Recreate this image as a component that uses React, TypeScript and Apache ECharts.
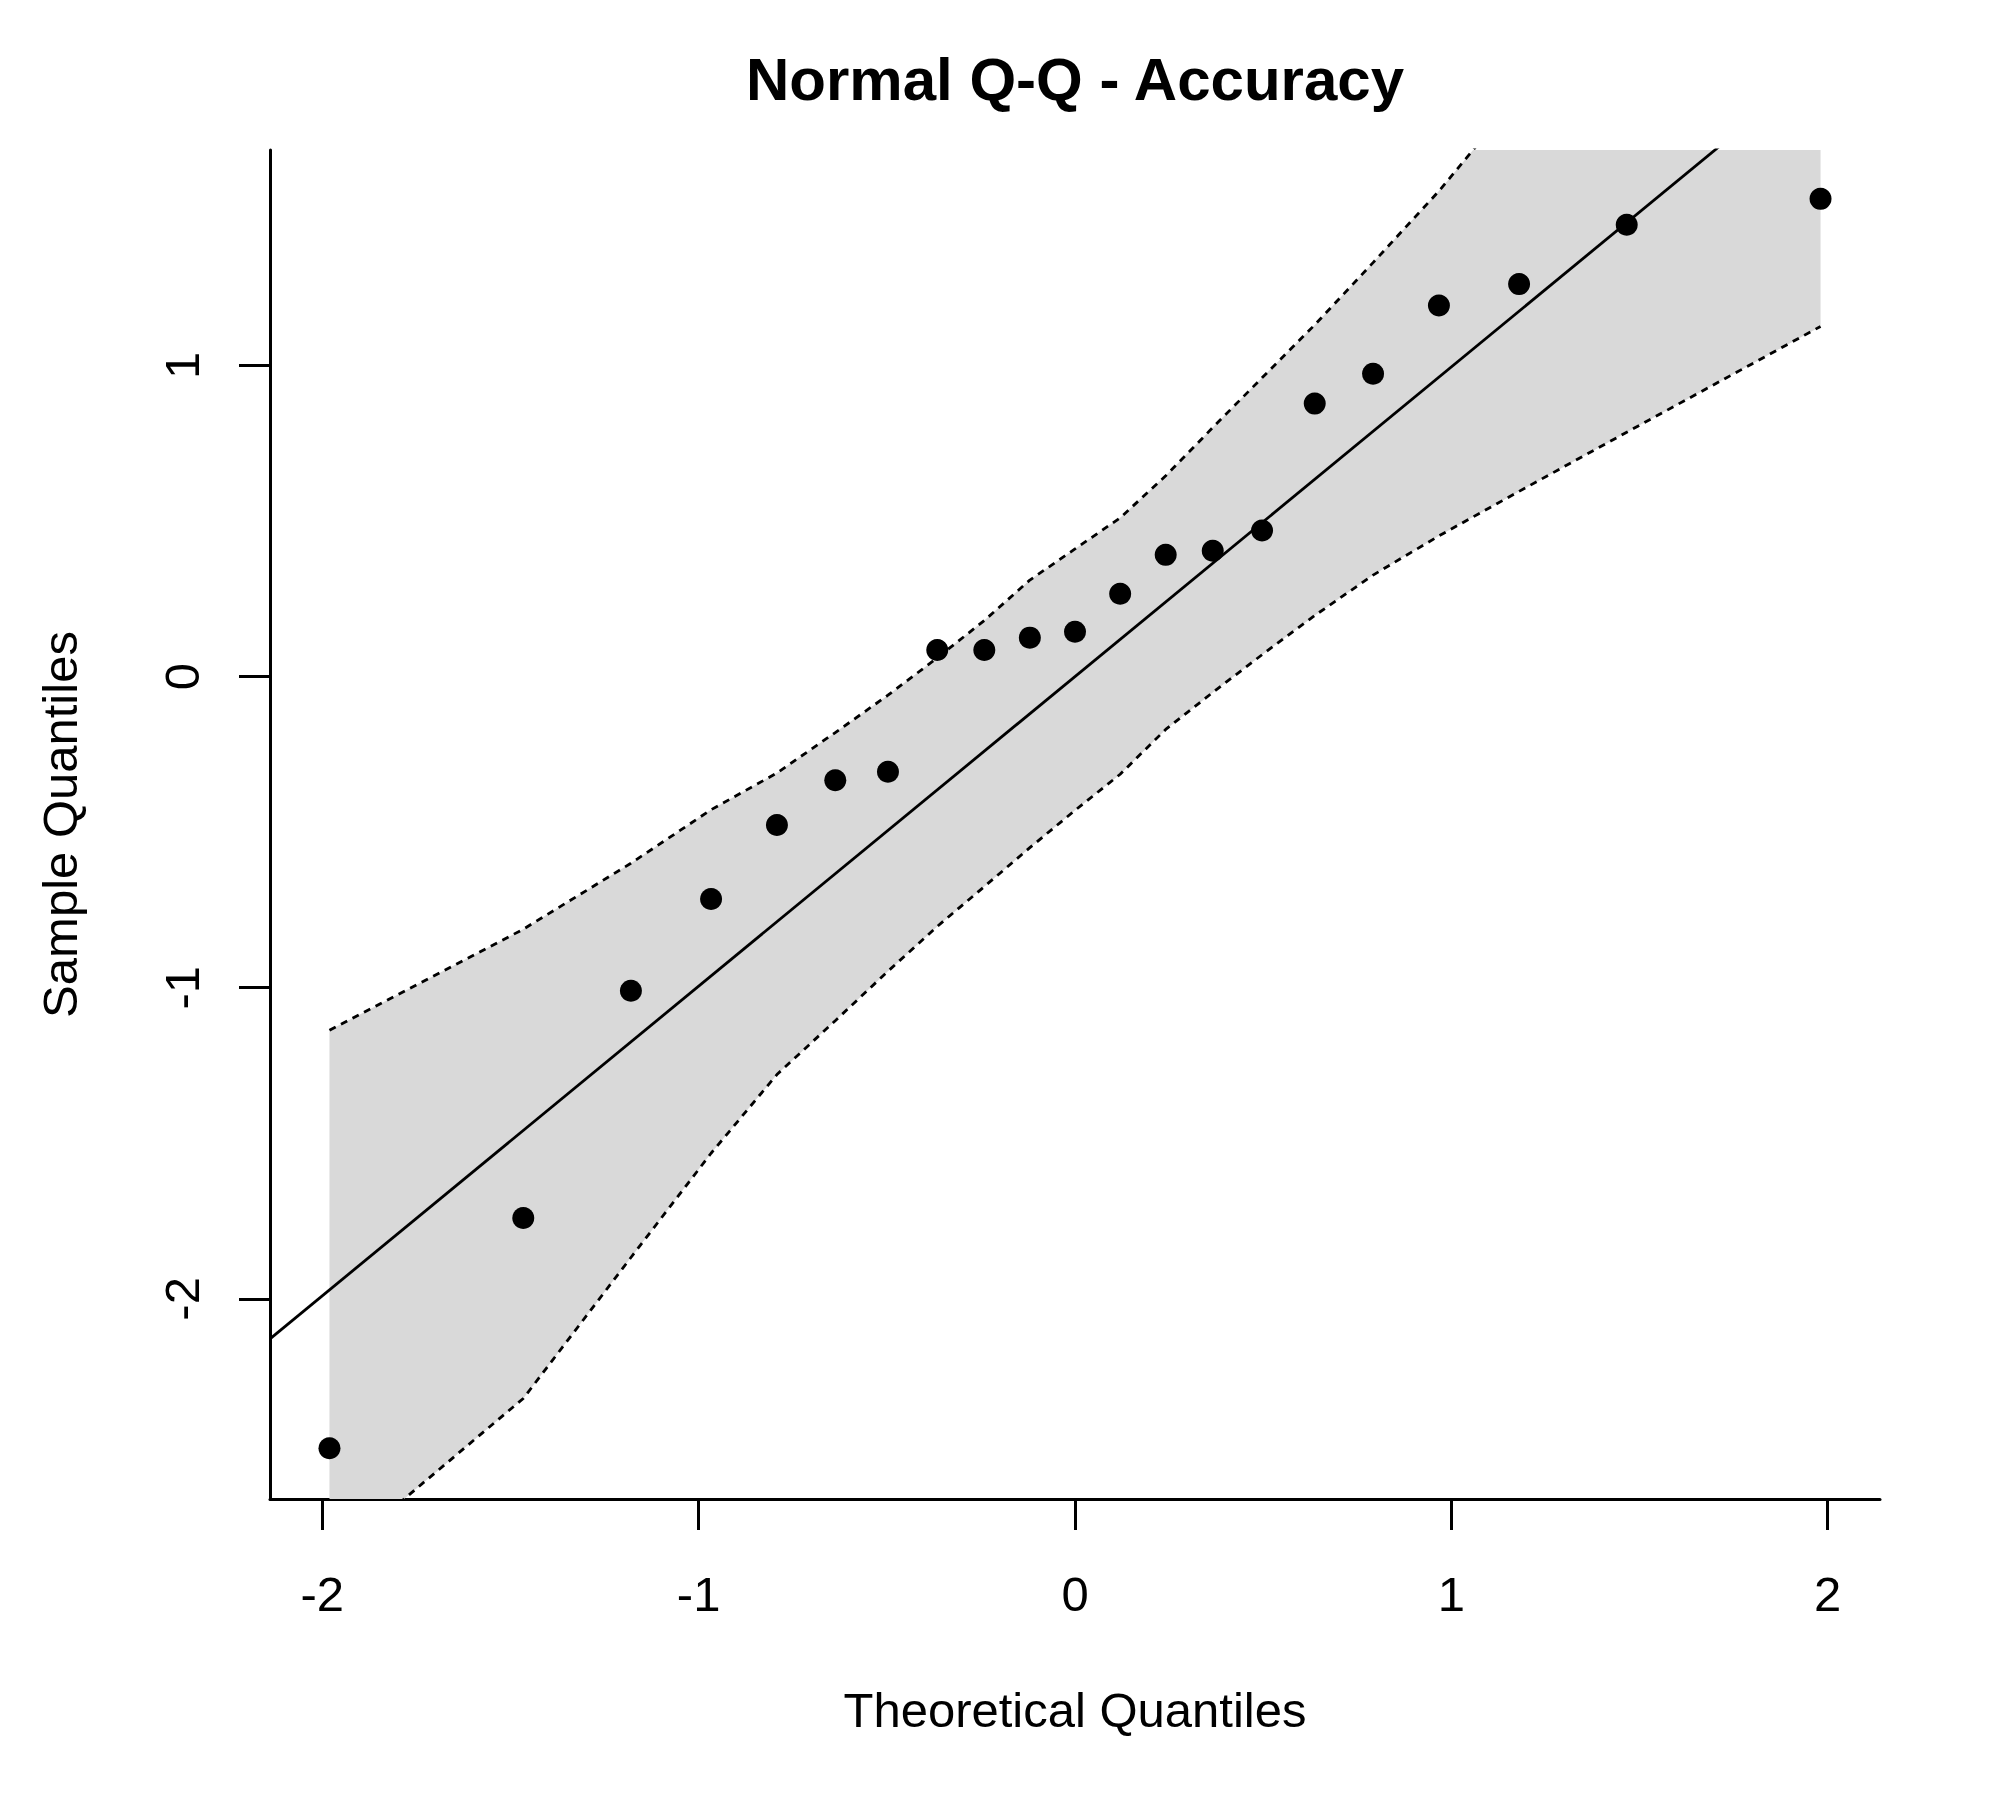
import { useEffect, useRef } from 'react'
import * as echarts from 'echarts'

// theoretical normal quantiles (x) and the sorted sample (y)
const theoretical = [
  -1.981, -1.466, -1.18, -0.967, -0.792, -0.637, -0.497, -0.366, -0.241, -0.12, 0,
  0.12, 0.241, 0.366, 0.497, 0.637, 0.792, 0.967, 1.18, 1.466, 1.981,
]
const sample = [
  -2.48, -1.74, -1.01, -0.715, -0.477, -0.333, -0.306, 0.085, 0.085, 0.125, 0.144,
  0.266, 0.391, 0.404, 0.469, 0.877, 0.973, 1.192, 1.261, 1.452, 1.535,
]
// pointwise confidence envelope read at each theoretical quantile
const bandUpper = [
  -1.137, -0.812, -0.6, -0.428, -0.31, -0.18, -0.06, 0.06, 0.18, 0.31, 0.41,
  0.51, 0.645, 0.8, 0.96, 1.13, 1.33, 1.56, 1.87, 2.26, 2.92,
]
const bandLower = [
  -2.845, -2.32, -1.867, -1.532, -1.279, -1.106, -0.947, -0.803, -0.675, -0.55, -0.43,
  -0.314, -0.17, -0.051, 0.07, 0.196, 0.326, 0.452, 0.595, 0.785, 1.125,
]
const xTicks = [-2, -1, 0, 1, 2]
const yTicks = [-2, -1, 0, 1]
const xRange = [-2.139, 2.139]
const yRange = [-2.643, 1.692]
const lineIntercept = 0
const lineSlope = 0.995

const FONT = '"Liberation Sans", Arial, sans-serif'

export default function App() {
  const ref = useRef<HTMLDivElement | null>(null)

  useEffect(() => {
    document.body.style.margin = '0'
    if (!ref.current) return
    const chart = echarts.init(ref.current, undefined, { renderer: 'svg' })

    const dashed = { color: '#000', width: 2.8, type: [7, 6] as number[] }

    chart.setOption({
      animation: false,
      backgroundColor: '#fff',
      grid: { left: 270, right: 120, top: 150, bottom: 301 },
      xAxis: {
        type: 'value',
        min: xRange[0],
        max: xRange[1],
        name: 'Theoretical Quantiles',
        nameLocation: 'middle',
        nameGap: 186,
        nameTextStyle: { fontFamily: FONT, fontSize: 49, color: '#000' },
        axisLine: { show: true, onZero: false, lineStyle: { color: '#000', width: 3 } },
        axisTick: { show: true, customValues: xTicks, length: 31, lineStyle: { color: '#000', width: 3 } },
        axisLabel: {
          customValues: xTicks,
          margin: 70,
          fontFamily: FONT,
          fontSize: 49,
          color: '#000',
          formatter: (v: number) => String(v),
        },
        splitLine: { show: false },
      },
      yAxis: {
        type: 'value',
        min: yRange[0],
        max: yRange[1],
        name: 'Sample Quantiles',
        nameLocation: 'middle',
        nameGap: 186,
        nameRotate: 90,
        nameTextStyle: { fontFamily: FONT, fontSize: 49, color: '#000' },
        axisLine: { show: true, onZero: false, lineStyle: { color: '#000', width: 3 } },
        axisTick: { show: true, customValues: yTicks, length: 31, lineStyle: { color: '#000', width: 3 } },
        axisLabel: {
          customValues: yTicks,
          rotate: 90,
          margin: 64,
          fontFamily: FONT,
          fontSize: 49,
          color: '#000',
          formatter: (v: number) => String(v),
        },
        splitLine: { show: false },
      },
      graphic: [
        {
          type: 'text',
          x: 1075,
          y: 79,
          style: {
            text: 'Normal Q-Q - Accuracy',
            fontFamily: FONT,
            fontSize: 60,
            fontWeight: 'bold',
            fill: '#000',
            textAlign: 'center',
            textVerticalAlign: 'middle',
          },
        },
      ],
      series: [
        {
          type: 'custom',
          clip: true,
          z: 1,
          data: theoretical.map((x, i) => [x, bandUpper[i], bandLower[i]]),
          encode: { x: 0, y: [1, 2] },
          renderItem: (params: any, api: any) => {
            if (params.dataIndex !== 0) return null
            const top = theoretical.map((x, i) => api.coord([x, bandUpper[i]]))
            const bottom = theoretical.map((x, i) => api.coord([x, bandLower[i]])).reverse()
            return {
              type: 'polygon',
              shape: { points: top.concat(bottom) },
              style: { fill: '#d9d9d9' },
            }
          },
        },
        {
          type: 'line',
          z: 2,
          showSymbol: false,
          data: theoretical.map((x, i) => [x, bandUpper[i]]),
          lineStyle: dashed,
        },
        {
          type: 'line',
          z: 2,
          showSymbol: false,
          data: theoretical.map((x, i) => [x, bandLower[i]]),
          lineStyle: dashed,
        },
        {
          type: 'line',
          z: 3,
          showSymbol: false,
          data: xRange.map((x) => [x, lineIntercept + lineSlope * x]),
          lineStyle: { color: '#000', width: 2.8 },
        },
        {
          type: 'scatter',
          z: 4,
          symbol: 'circle',
          symbolSize: 22,
          itemStyle: { color: '#000', opacity: 1 },
          data: theoretical.map((x, i) => [x, sample[i]]),
        },
      ],
    })

    return () => {
      chart.dispose()
    }
  }, [])

  return <div ref={ref} style={{ width: 2000, height: 1800 }} />
}
